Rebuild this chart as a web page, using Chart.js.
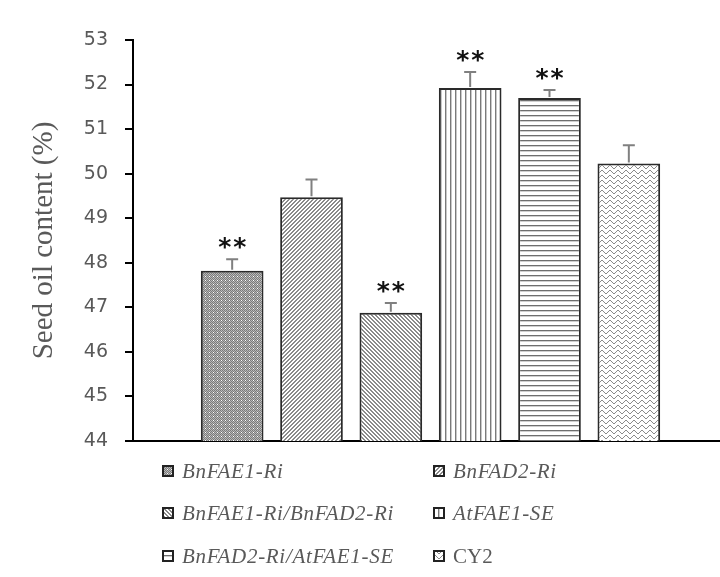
<!DOCTYPE html>
<html>
<head>
<meta charset="utf-8">
<script src="https://cdn.jsdelivr.net/npm/chart.js@4/dist/chart.umd.min.js"></script>
<style>
  body { margin: 0; background: #fff; overflow: hidden; width: 720px; height: 577px; position: relative; }
  #chart { position: absolute; left: 0; top: 0; }
  .leg { position: absolute; height: 24px; display: flex; align-items: center;
         font-family: "Liberation Serif", serif; font-size: 21px; color: #595959; white-space: nowrap; }
  .leg canvas { margin-right: 8px; }
  .leg i { letter-spacing: 0.7px; }
</style>
</head>
<body>
<canvas id="chart" width="728" height="577"></canvas>
<div id="legend"></div>
<script>
// data
const lines = ['BnFAE1-Ri', 'BnFAD2-Ri', 'BnFAE1-Ri/BnFAD2-Ri', 'AtFAE1-SE', 'BnFAD2-Ri/AtFAE1-SE', 'CY2'];
const italicName = [true, true, true, true, true, false];
const oilContent = [47.82, 49.47, 46.88, 51.92, 51.70, 50.23];
const stdErr = [0.26, 0.40, 0.22, 0.36, 0.18, 0.41];
const marks = [2, 0, 2, 2, 2, 0]; // number of asterisks
const fills = ['dots', 'fwd', 'back', 'vert', 'horz', 'wave'];

function makeTile(kind) {
  const w = { dots: 4, fwd: 4, back: 4, vert: 5, horz: 5, wave: 8 }[kind];
  const h = { dots: 4, fwd: 4, back: 4, vert: 5, horz: 5, wave: 5 }[kind];
  const c = document.createElement('canvas');
  c.width = w; c.height = h;
  const g = c.getContext('2d');
  g.fillStyle = '#fff';
  g.fillRect(0, 0, w, h);
  if (kind === 'dots') {
    for (let x = 0; x < 4; x++) {
      for (let y = 0; y < 4; y++) {
        g.fillStyle = (x + y) % 2 ? '#b8b8b8' : '#7a7a7a';
        g.fillRect(x, y, 1, 1);
      }
    }
    g.fillStyle = '#fff';
    g.fillRect(1, 0, 1, 1);
  } else if (kind === 'fwd') {
    g.fillStyle = '#8a8a8a';
    for (let i = 0; i < 4; i++) { g.fillRect(i, 3 - i, 1, 1); g.fillRect((i + 1) % 4, 3 - i, 1, 1); }
  } else if (kind === 'back') {
    g.fillStyle = '#8a8a8a';
    for (let i = 0; i < 4; i++) { g.fillRect(i, i, 1, 1); g.fillRect((i + 1) % 4, i, 1, 1); }
  } else if (kind === 'vert') {
    g.fillStyle = '#7a7a7a';
    g.fillRect(0, 0, 1, h);
    g.fillStyle = '#c8c8c8';
    g.fillRect(1, 0, 1, h);
  } else if (kind === 'horz') {
    g.fillStyle = '#6e6e6e';
    g.fillRect(0, 0, w, 1);
    g.fillStyle = '#cfcfcf';
    g.fillRect(0, 1, w, 1);
  } else if (kind === 'wave') {
    g.fillStyle = '#8a8a8a';
    const ys = [1, 0, 0, 1, 2, 3, 3, 2];
    for (let i = 0; i < 8; i++) g.fillRect(i, ys[i], 1, 1);
  }
  return c;
}

const ctx = document.getElementById('chart').getContext('2d');
const patterns = fills.map(k => ctx.createPattern(makeTile(k), 'repeat'));

const errorBars = {
  id: 'errorBars',
  afterDatasetsDraw(chart) {
    const y = chart.scales.y;
    const c = chart.ctx;
    c.save();
    chart.data.datasets.forEach((ds, i) => {
      const bar = chart.getDatasetMeta(i).data[0];
      const top = y.getPixelForValue(oilContent[i] + stdErr[i]);
      c.strokeStyle = '#808080';
      c.lineWidth = 2;
      c.beginPath();
      c.moveTo(bar.x, bar.y - 1);
      c.lineTo(bar.x, top);
      c.moveTo(bar.x - 6, top);
      c.lineTo(bar.x + 6, top);
      c.stroke();
      c.fillStyle = '#111';
      c.font = 'bold 25px "DejaVu Sans"';
      c.textAlign = 'center';
      c.textBaseline = 'alphabetic';
      for (let k = 0; k < marks[i]; k++) {
        c.fillText('*', bar.x + (k - (marks[i] - 1) / 2) * 15, top - 4);
      }
    });
    c.restore();
  }
};

new Chart(ctx, {
  type: 'bar',
  data: {
    labels: [''],
    datasets: lines.map((name, i) => ({
      label: name,
      data: [oilContent[i]],
      backgroundColor: patterns[i],
      borderColor: '#2a2a2a',
      borderWidth: 2,
      borderSkipped: 'bottom',
      categoryPercentage: 0.8,
      barPercentage: 0.79
    }))
  },
  options: {
    responsive: false,
    animation: false,
    devicePixelRatio: 1,
    layout: { padding: { left: 0, top: 40, right: 0, bottom: 136 } },
    plugins: { legend: { display: false }, tooltip: { enabled: false } },
    scales: {
      x: {
        grid: { display: false },
        ticks: { display: false },
        border: { display: true, color: '#000', width: 2 },
        afterFit: s => { s.height = 0; }
      },
      y: {
        min: 44,
        max: 53,
        ticks: { stepSize: 1, color: '#595959', padding: 17, font: { family: 'DejaVu Sans', size: 19 } },
        grid: { drawOnChartArea: false, drawTicks: true, tickLength: 8, color: '#000', lineWidth: 2 },
        border: { display: true, color: '#000', width: 2 },
        title: {
          display: true,
          text: 'Seed oil content (%)',
          color: '#595959',
          padding: { top: 27, bottom: 0 },
          font: { family: 'Liberation Serif', size: 29, weight: 'normal' }
        },
        afterFit: s => { s.width = 133; }
      }
    }
  },
  plugins: [errorBars]
});

// two-column legend underneath
const legend = document.getElementById('legend');
const colX = [162, 433];
const rowY = [471, 513, 556];
lines.forEach((name, i) => {
  const item = document.createElement('div');
  item.className = 'leg';
  item.style.left = colX[i % 2] + 'px';
  item.style.top = (rowY[Math.floor(i / 2)] - 12) + 'px';
  const sw = document.createElement('canvas');
  sw.width = 12; sw.height = 12;
  const g = sw.getContext('2d');
  g.fillStyle = g.createPattern(makeTile(fills[i]), 'repeat');
  g.fillRect(0, 0, 12, 12);
  g.strokeStyle = '#222';
  g.lineWidth = 2;
  g.strokeRect(1, 1, 10, 10);
  item.appendChild(sw);
  const t = document.createElement(italicName[i] ? 'i' : 'span');
  t.textContent = name;
  item.appendChild(t);
  legend.appendChild(item);
});
</script>
</body>
</html>
